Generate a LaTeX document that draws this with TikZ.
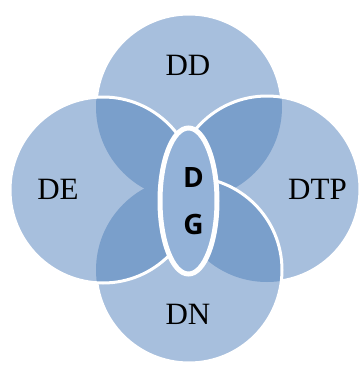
\documentclass[tikz,border=0pt]{standalone}
\usepackage{fontspec}
\setmainfont{Liberation Serif}
\newfontfamily\dgfont{Open Sans}
\definecolor{lightblue}{HTML}{A7BFDD}
\definecolor{darkblue}{HTML}{7A9FCB}
\definecolor{midblue}{HTML}{93B2D8}
\tikzset{
  disc/.style={fill=lightblue},
  rim/.style={draw=white, line width=3pt},
  lap/.style={fill=darkblue},
  lbl/.style={font=\fontsize{31}{36}\selectfont, text=black, inner sep=0pt},
  dglbl/.style={font=\dgfont\bfseries\fontsize{28}{32}\selectfont, text=black, inner sep=0pt}
}
\begin{document}
\begin{tikzpicture}[x=1pt,y=-1pt]
\useasboundingbox (0,0) rectangle (362,367);
\coordinate (cT) at (189,107);
\coordinate (cR) at (267,189);
\coordinate (cB) at (189,270);
\coordinate (cL) at (103,190);
% top
\fill[disc] (cT) circle (93pt);
\draw[rim] (cT) circle (93pt);
% right
\fill[disc] (cR) circle (93pt);
\begin{scope}
  \clip (cR) circle (93pt);
  \fill[lap] (cT) circle (93pt);
\end{scope}
\draw[rim] (cR) circle (93pt);
% bottom
\fill[disc] (cB) circle (93pt);
\begin{scope}
  \clip (cB) circle (93pt);
  \fill[lap] (cR) circle (93pt);
  \fill[lap] (cT) circle (93pt);
\end{scope}
\draw[rim] (cB) circle (93pt);
% left
\fill[disc] (cL) circle (93pt);
\begin{scope}
  \clip (cL) circle (93pt);
  \fill[lap] (cT) circle (93pt);
  \fill[lap] (cB) circle (93pt);
  \fill[lap] (cR) circle (93pt);
\end{scope}
\draw[rim] (cL) circle (93pt);
% center ellipse
\draw[fill=midblue, draw=white, line width=5pt] (188.5,201) ellipse (28.5pt and 73pt);
% labels
\node[lbl] (dd) at (188,65) {DD};
\node[lbl] (de) at (58,189) {DE};
\node[lbl] (dtp) at (317.5,189) {DTP};
\node[lbl] (dn) at (188,314) {DN};
\node[dglbl] (d) at (193.5,178) {D};
\node[dglbl] (g) at (193.5,224) {G};
\end{tikzpicture}
\end{document}
